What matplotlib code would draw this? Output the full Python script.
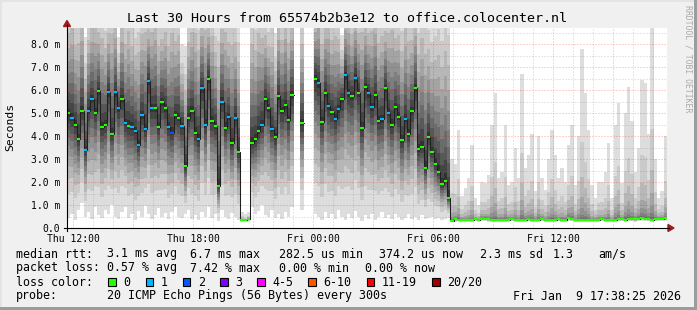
import numpy as np
import matplotlib
matplotlib.use("Agg")
import matplotlib.pyplot as plt
import matplotlib.dates as mdates
from matplotlib.patches import Rectangle, Polygon
from matplotlib.lines import Line2D
from datetime import datetime, timedelta

nan = float("nan")

# ---------------- data ----------------
start_time = datetime(2026, 1, 8, 11, 42)   # left edge of the plot
span_hours = 30
bin_minutes = 10

median_ms = [
    5.0, 4.8, 4.5, 3.85, 5.1, 3.4, 5.1, 5.6, 5.0, 5.95,
    4.4, 4.5, 5.9, 4.1, 5.9, 5.2, 5.6, 4.55, 4.45, 4.4,
    4.2, 3.6, 4.9, 4.3, 6.4, 5.2, 5.2, 4.4, 5.5, 5.2,
    4.4, 4.15, 4.9, 4.8, 4.45, 2.7, 4.8, 5.1, 4.15, 3.86,
    6.07, 4.5, 6.5, 4.65, 4.45, 1.84, 5.5, 4.36, 4.84, 3.68,
    4.8, 3.32, 0.36, 0.33, 0.38, 3.7, 3.87, 4.2, 4.5, 5.6,
    5.23, 4.3, 3.95, 5.75, 5.1, 5.35, 4.7, 5.78, nan, nan,
    4.55, nan, nan, nan, 6.5, 6.3, 4.62, 5.88, 5.3, 5.06,
    4.74, 5.17, 5.61, 6.65, 5.86, 5.75, 6.54, 5.88, 4.36, 6.14,
    5.86, 5.25, 5.78, 4.67, 4.72, 6.1, 5.01, 4.5, 5.28, 4.84,
    3.83, 4.74, 4.09, 5.09, 6.1, 3.43, 3.54, 2.62, 3.97, 3.32,
    2.77, 2.45, 1.91, 2.06, 1.32, 0.30, 0.37, 0.36, 0.35, 0.36,
    0.34, 0.35, 0.37, 0.35, 0.40, 0.41, 0.37, 0.35, 0.34, 0.36,
    0.35, 0.33, 0.36, 0.38, 0.35, 0.34, 0.36, 0.35, 0.37, 0.34,
    0.36, 0.35, 0.38, 0.35, 0.34, 0.36, 0.35, 0.37, 0.34, 0.36,
    0.44, 0.38, 0.35, 0.36, 0.34, 0.35, 0.33, 0.34, 0.36, 0.35,
    0.37, 0.35, 0.36, 0.34, 0.36, 0.38, 0.37, 0.36, 0.41, 0.39,
    0.37, 0.40, 0.44, 0.40, 0.38, 0.36, 0.39, 0.41, 0.40, 0.42,
]

smoke_lo_ms = [
    0.45, 0.6, 0.35, 0.8, 1.1, 0.5, 0.7, 0.4, 0.9, 0.55,
    0.45, 0.8, 0.6, 1.0, 0.5, 0.4, 0.7, 0.9, 0.45, 0.6,
    0.35, 0.75, 0.5, 0.95, 0.6, 0.4, 0.55, 0.85, 0.5, 0.65,
    0.4, 0.7, 0.9, 0.5, 0.45, 0.6, 0.8, 0.4, 0.55, 0.35,
    0.7, 0.5, 0.9, 0.45, 0.6, 0.3, 0.8, 0.5, 0.4, 0.65,
    0.5, 0.35, 0.28, 0.27, 0.28, 0.9, 0.6, 0.75, 1.0, 0.55,
    0.5, 0.8, 0.45, 0.6, 0.4, 0.7, 0.5, 0.9, nan, nan,
    0.8, nan, nan, nan, 0.6, 0.5, 0.35, 0.7, 0.45, 0.6,
    0.4, 0.8, 0.5, 0.35, 0.6, 0.45, 0.75, 0.5, 0.3, 0.55,
    0.4, 0.6, 0.35, 0.5, 0.7, 0.45, 0.55, 0.4, 0.6, 0.5,
    0.35, 0.45, 0.6, 0.4, 0.5, 0.35, 0.55, 0.4, 0.45, 0.5,
    0.4, 0.45, 0.35, 0.4, 0.45, 0.27, 0.28, 0.29, 0.27, 0.28,
    0.27, 0.28, 0.29, 0.28, 0.3, 0.3, 0.28, 0.27, 0.28, 0.28,
    0.27, 0.26, 0.28, 0.29, 0.28, 0.27, 0.28, 0.28, 0.29, 0.27,
    0.28, 0.27, 0.29, 0.28, 0.27, 0.28, 0.28, 0.29, 0.27, 0.28,
    0.3, 0.29, 0.28, 0.28, 0.27, 0.28, 0.26, 0.27, 0.28, 0.28,
    0.29, 0.28, 0.28, 0.27, 0.28, 0.29, 0.29, 0.28, 0.3, 0.29,
    0.28, 0.3, 0.31, 0.3, 0.29, 0.28, 0.29, 0.3, 0.3, 0.31,
]

smoke_hi_ms = [
    10.5, 11, 10, 10.5, 11, 8.3, 10, 10.5, 11, 10,
    10.5, 9.8, 10, 11, 10.5, 8.3, 10.5, 10, 11, 10,
    9.5, 10, 10.5, 11, 10, 10.5, 11, 10, 9.8, 10.5,
    10, 11, 10, 10.5, 8.0, 7.9, 10, 10.5, 11, 10,
    10.5, 11, 10, 10.5, 9.5, 10, 10.5, 11, 10, 10.5,
    10, 9.5, 0.7, 0.6, 0.7, 10.5, 10, 11, 10.5, 10,
    9.5, 10, 8.5, 10.5, 10, 11, 10, 10.5, nan, nan,
    10, nan, nan, nan, 10.5, 11, 10, 10.5, 11, 10,
    10.5, 10, 8.4, 10.5, 11, 10, 10.5, 10, 11, 10.5,
    10, 10.5, 11, 10, 10.5, 10, 10.5, 11, 10, 10.5,
    10, 11, 10.5, 10, 10.5, 10, 11, 10.5, 10, 9.5,
    10, 10.5, 10, 11, 10.5, 3.0, 2.8, 4.26, 1.4, 1.74,
    2.17, 3.6, 1.3, 1.0, 2.0, 1.95, 2.3, 4.48, 5.87, 2.17,
    2.45, 4.48, 1.87, 2.0, 3.47, 2.17, 6.7, 2.6, 3.17, 4.1,
    1.6, 4.0, 2.17, 1.67, 3.0, 4.26, 3.17, 2.17, 2.6, 2.0,
    3.6, 4.48, 1.87, 4.0, 7.78, 5.87, 4.26, 1.87, 1.3, 2.0,
    2.0, 2.45, 3.7, 1.3, 4.48, 5.43, 1.95, 5.0, 6.14, 4.67,
    2.45, 3.47, 6.43, 6.3, 4.1, 9.0, 3.0, 1.3, 1.6, 4.0,
]

loss_count = [
    0, 1, 0, 0, 0, 1, 1, 1, 0, 0,
    0, 0, 1, 0, 1, 1, 0, 1, 0, 1,
    1, 1, 1, 1, 1, 1, 0, 0, 0, 0,
    1, 2, 0, 0, 1, 0, 0, 0, 0, 1,
    1, 1, 0, 0, 0, 0, 1, 0, 1, 0,
    1, 0, 0, 0, 0, 0, 0, 0, 1, 0,
    0, 1, 0, 0, 0, 0, 0, 0, 0, 0,
    0, 0, 0, 0, 0, 1, 0, 0, 1, 0,
    1, 1, 0, 1, 1, 0, 1, 0, 0, 0,
    1, 1, 0, 0, 1, 0, 1, 0, 0, 0,
    0, 1, 0, 0, 0, 0, 0, 0, 0, 0,
] + [0] * 70

x_tick_times = [datetime(2026, 1, 8, 12), datetime(2026, 1, 8, 18),
                datetime(2026, 1, 9, 0), datetime(2026, 1, 9, 6),
                datetime(2026, 1, 9, 12)]
x_tick_labels = ["Thu 12:00", "Thu 18:00", "Fri 00:00", "Fri 06:00", "Fri 12:00"]
y_tick_values = [0, 1, 2, 3, 4, 5, 6, 7, 8]
y_tick_labels = ["0.0", "1.0 m", "2.0 m", "3.0 m", "4.0 m", "5.0 m",
                 "6.0 m", "7.0 m", "8.0 m"]

loss_labels = ["0", "1", "2", "3", "4-5", "6-10", "11-19", "20/20"]
loss_colors = ["#26ff00", "#00b8ff", "#0059ff", "#7e00ff", "#ff00ff",
               "#ff5500", "#ff0000", "#a10000"]

stats_line1 = [("median rtt:", 16), ("3.1 ms avg", 107), ("6.7 ms max", 190),
               ("282.5 us min", 279), ("374.2 us now", 379), ("2.3 ms sd", 480),
               ("1.3", 553), ("am/s", 598)]
stats_line2 = [("packet loss:", 16), ("0.57 % avg", 107), ("7.42 % max", 190),
               ("0.00 % min", 279), ("0.00 % now", 365)]
probe_text = "20 ICMP Echo Pings (56 Bytes) every 300s"
date_text = "Fri Jan  9 17:38:25 2026"
title = "Last 30 Hours from 65574b2b3e12 to office.colocenter.nl"

# ---------------- style constants ----------------
W, H, DPI = 697, 310, 100
SMOKE_GRAYS = [221, 202, 183, 164, 145, 126, 107, 88, 69, 50]
SMOKE_SPREAD = [1.0, 0.77, 0.63, 0.51, 0.41, 0.32, 0.24, 0.165, 0.10, 0.035]
MONO = "DejaVu Sans Mono"
plt.rcParams["font.family"] = [MONO, "DejaVu Sans"]


def fx(x):
    return x / W


def fy(y):
    return 1 - y / H


fig = plt.figure(figsize=(W / DPI, H / DPI), dpi=DPI, facecolor="#f0f0f0")
ax = fig.add_axes([fx(67), fy(228), 600 / W, 200 / H])
ax.set_facecolor("white")
for s in ax.spines.values():
    s.set_visible(False)

end_time = start_time + timedelta(hours=span_hours)
ax.set_xlim(mdates.date2num(start_time), mdates.date2num(end_time))
ax.set_ylim(0, 200 / 23)

med = np.array(median_ms, float)
lo = np.array(smoke_lo_ms, float)
hi = np.array(smoke_hi_ms, float)
n = len(med)
left = np.array([mdates.date2num(start_time + timedelta(minutes=bin_minutes * i)) for i in range(n)])
right = left + bin_minutes / 1440.0
xx = np.column_stack([left, right]).ravel()

# low-latency period has a long, thin upper tail
tail_up = np.where(med < 1.0, 3.0, 1.0)
tail_dn = np.where(med < 1.0, 1.5, 1.0)
for g, c in zip(SMOKE_SPREAD, SMOKE_GRAYS):
    low = med - (med - lo) * g ** tail_dn
    up = med + (hi - med) * g ** tail_up
    col = "#" + ("%02x" % c) * 3
    ax.fill_between(xx, np.repeat(low, 2), np.repeat(up, 2), color=col,
                    linewidth=0, antialiased=False, zorder=1)

# grid
dash = (0, (1, 2))
for k in range(0, 31):
    t = mdates.date2num(datetime(2026, 1, 8, 12) + timedelta(hours=k))
    if t >= mdates.date2num(end_time):
        break
    if k % 3 == 0:
        ax.axvline(t, color=(1, 0, 0, 0.35), lw=0.72, ls=dash, zorder=3)
    else:
        ax.axvline(t, color=(0.45, 0.45, 0.45, 0.35), lw=0.72, ls=dash, zorder=3)
for j in range(1, 18):
    v = j * 0.5
    if j % 2 == 0:
        ax.axhline(v, color=(1, 0, 0, 0.35), lw=0.72, ls=dash, zorder=3)
    else:
        ax.axhline(v, color=(0.45, 0.45, 0.45, 0.35), lw=0.72, ls=dash, zorder=3)

# median
ax.plot(xx, np.repeat(med, 2), color="#202020", lw=0.75, zorder=4)


def loss_index(c):
    if c <= 3:
        return c
    if c <= 5:
        return 4
    if c <= 10:
        return 5
    if c <= 19:
        return 6
    return 7


seg_colors = [loss_colors[loss_index(c)] for c in loss_count]
ok = ~np.isnan(med)
ax.hlines(med[ok], left[ok], right[ok], colors=np.array(seg_colors)[ok],
          lw=1.5, zorder=5)

# ticks
ax.set_xticks([mdates.date2num(t) for t in x_tick_times])
ax.set_xticklabels(x_tick_labels, fontsize=7, family=MONO)
ax.set_yticks(y_tick_values)
ax.set_yticklabels(y_tick_labels, fontsize=7, family=MONO)
ax.tick_params(axis="x", length=0, pad=4)
ax.tick_params(axis="y", length=0, pad=5)

# axis lines and arrows
fig.add_artist(Line2D([fx(64), fx(669)], [fy(228), fy(228)], color="black", lw=0.8))
fig.add_artist(Line2D([fx(67), fx(67)], [fy(231), fy(25)], color="black", lw=0.8))
arrow_col = "#9b1c1c"
fig.add_artist(Polygon([(fx(668), fy(224.5)), (fx(674), fy(228)), (fx(668), fy(231.5))],
                       closed=True, color=arrow_col, transform=fig.transFigure))
fig.add_artist(Polygon([(fx(63.5), fy(26.5)), (fx(67), fy(20.5)), (fx(70.5), fy(26.5))],
                       closed=True, color=arrow_col, transform=fig.transFigure))

# frame shading
fig.add_artist(Rectangle((0, fy(2)), 1, 2 / H, transform=fig.transFigure, color="#e4e4e4", lw=0))
fig.add_artist(Rectangle((0, 0), 2 / W, 1, transform=fig.transFigure, color="#e4e4e4", lw=0))
fig.add_artist(Rectangle((0, 0), 1, 3 / H, transform=fig.transFigure, color="#9c9c9c", lw=0))
fig.add_artist(Rectangle((fx(694), 0), 3 / W, 1, transform=fig.transFigure, color="#9c9c9c", lw=0))

# texts
fig.text(fx(347), fy(19), title, ha="center", va="center", fontsize=9.6, family=MONO)
fig.text(fx(10), fy(127), "Seconds", ha="center", va="center", rotation=90,
         fontsize=8.2, family=MONO)
fig.text(fx(688), fy(59), "RRDTOOL / TOBI OETIKER", ha="center", va="center",
         rotation=270, fontsize=5.9, family=MONO, color="#aaaaaa")

LEG = 8.4
for txt, x in stats_line1:
    fig.text(fx(x), fy(254), txt, ha="left", va="center", fontsize=LEG, family=MONO)
for txt, x in stats_line2:
    fig.text(fx(x), fy(268), txt, ha="left", va="center", fontsize=LEG, family=MONO)

fig.text(fx(16), fy(282), "loss color:", ha="left", va="center", fontsize=LEG, family=MONO)
bx = 108.3
char_w = 7.02
for lab, col in zip(loss_labels, loss_colors):
    fig.add_artist(Rectangle((fx(bx), fy(286)), 7.7 / W, 8.3 / H, transform=fig.transFigure,
                             facecolor=col, edgecolor="black", lw=0.8))
    fig.text(fx(bx + 15), fy(282), lab, ha="left", va="center", fontsize=LEG, family=MONO)
    bx = bx + 15 + len(lab) * char_w + 15.2

fig.text(fx(16), fy(296), "probe:", ha="left", va="center", fontsize=LEG, family=MONO)
fig.text(fx(107), fy(296), probe_text, ha="left", va="center", fontsize=LEG, family=MONO)
fig.text(fx(681), fy(296), date_text, ha="right", va="center", fontsize=LEG, family=MONO)

fig.savefig("out.png", dpi=DPI, facecolor=fig.get_facecolor())
